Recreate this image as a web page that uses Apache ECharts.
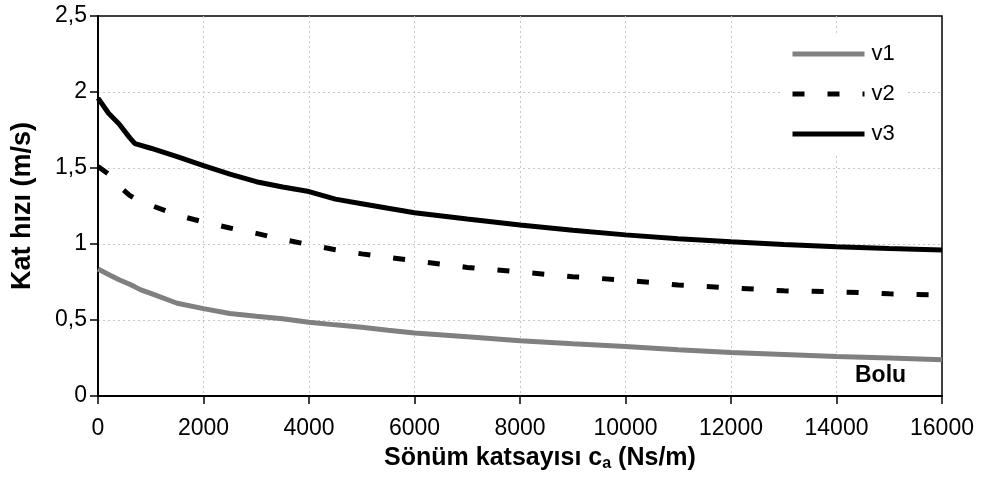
<!DOCTYPE html>
<html>
<head>
<meta charset="utf-8">
<script src="https://cdn.jsdelivr.net/npm/echarts@6/dist/echarts.min.js"></script>
<style>html,body{margin:0;padding:0;background:#fff;}#c{width:984px;height:481px;}</style>
</head>
<body>
<div id="c"></div>
<script>
const xValues = [0, 200, 400, 600, 700, 800, 1000, 1500, 2000, 2500, 3000, 3500, 4000, 4500, 5000, 5500, 6000, 7000, 8000, 9000, 10000, 11000, 12000, 13000, 14000, 15000, 16000];
const v1 = [0.835, 0.80, 0.765, 0.735, 0.718, 0.70, 0.675, 0.61, 0.575, 0.543, 0.525, 0.508, 0.485, 0.468, 0.452, 0.433, 0.415, 0.39, 0.363, 0.343, 0.326, 0.305, 0.286, 0.273, 0.26, 0.25, 0.238];
const v2 = [1.51, 1.46, 1.38, 1.32, 1.30, 1.28, 1.255, 1.19, 1.145, 1.105, 1.07, 1.03, 0.996, 0.962, 0.935, 0.912, 0.89, 0.846, 0.816, 0.785, 0.762, 0.73, 0.712, 0.692, 0.686, 0.672, 0.665];
const v3 = [1.96, 1.86, 1.79, 1.70, 1.66, 1.65, 1.63, 1.575, 1.515, 1.46, 1.41, 1.375, 1.345, 1.295, 1.265, 1.235, 1.206, 1.165, 1.125, 1.09, 1.06, 1.035, 1.015, 0.997, 0.982, 0.97, 0.96];
const seriesNames = ['v1', 'v2', 'v3'];
const xTitle = 'Sönüm katsayısı c{sub|a} (Ns/m)';
const yTitle = 'Kat hızı (m/s)';
const stationLabel = 'Bolu';

const FONT = '"Liberation Sans", Arial, sans-serif';
const pair = arr => xValues.map((x, i) => [x, arr[i]]);
const chart = echarts.init(document.getElementById('c'));
chart.setOption({
  animation: false,
  textStyle: { fontFamily: FONT },
  grid: { left: 98, right: 42, top: 16, bottom: 85, show: true, borderColor: '#000', borderWidth: 1.5, backgroundColor: 'transparent' },
  legend: {
    orient: 'vertical', left: 780, top: 34, itemWidth: 72, itemHeight: 14, itemGap: 18,
    padding: [9, 12, 9, 10], backgroundColor: '#fff',
    itemStyle: { color: 'transparent', opacity: 0, borderWidth: 0 },
    lineStyle: { width: 5 },
    textStyle: { fontSize: 22, color: '#000', fontFamily: FONT, padding: [0, 0, 0, 2] },
    data: seriesNames
  },
  xAxis: {
    type: 'value', min: 0, max: 16000, interval: 2000,
    name: xTitle, nameLocation: 'middle', nameGap: 48,
    nameTextStyle: { fontSize: 25, fontWeight: 'bold', color: '#000', padding: [0, 0, 0, 40],
      rich: { sub: { fontSize: 16, fontWeight: 'bold', verticalAlign: 'bottom', padding: [12, 0, 0, 0] } } },
    axisLine: { lineStyle: { color: '#000', width: 2 } },
    axisTick: { show: true, length: 8, lineStyle: { color: '#000', width: 1.5 } },
    axisLabel: { fontSize: 23, color: '#000', margin: 21, formatter: v => String(v) },
    splitLine: { show: true, showMinLine: false, showMaxLine: false, lineStyle: { color: '#c8c8c8', width: 1, type: [2, 3] } }
  },
  yAxis: {
    type: 'value', min: 0, max: 2.5, interval: 0.5,
    name: yTitle, nameLocation: 'middle', nameGap: 62, nameRotate: 90,
    nameTextStyle: { fontSize: 27, fontWeight: 'bold', color: '#000' },
    axisLine: { show: true, lineStyle: { color: '#000', width: 2 } },
    axisTick: { show: true, length: 8, lineStyle: { color: '#000', width: 1.5 } },
    axisLabel: { fontSize: 23, color: '#000', margin: 11, formatter: v => String(v).replace('.', ',') },
    splitLine: { show: true, showMinLine: false, showMaxLine: false, lineStyle: { color: '#c8c8c8', width: 1, type: [2, 3] } }
  },
  graphic: [{
    type: 'text', left: 855, top: 364,
    style: { text: stationLabel, font: 'bold 23px ' + FONT, fill: '#000' }
  }],
  series: [
    { name: seriesNames[0], type: 'line', data: pair(v1), symbol: 'none', lineStyle: { color: '#808080', width: 5 }, itemStyle: { color: '#808080' } },
    { name: seriesNames[1], type: 'line', data: pair(v2), symbol: 'none', lineStyle: { color: '#000', width: 5, type: [12, 23], cap: 'butt' }, itemStyle: { color: '#000' } },
    { name: seriesNames[2], type: 'line', data: pair(v3), symbol: 'none', lineStyle: { color: '#000', width: 5 }, itemStyle: { color: '#000' } }
  ]
});
</script>
</body>
</html>
